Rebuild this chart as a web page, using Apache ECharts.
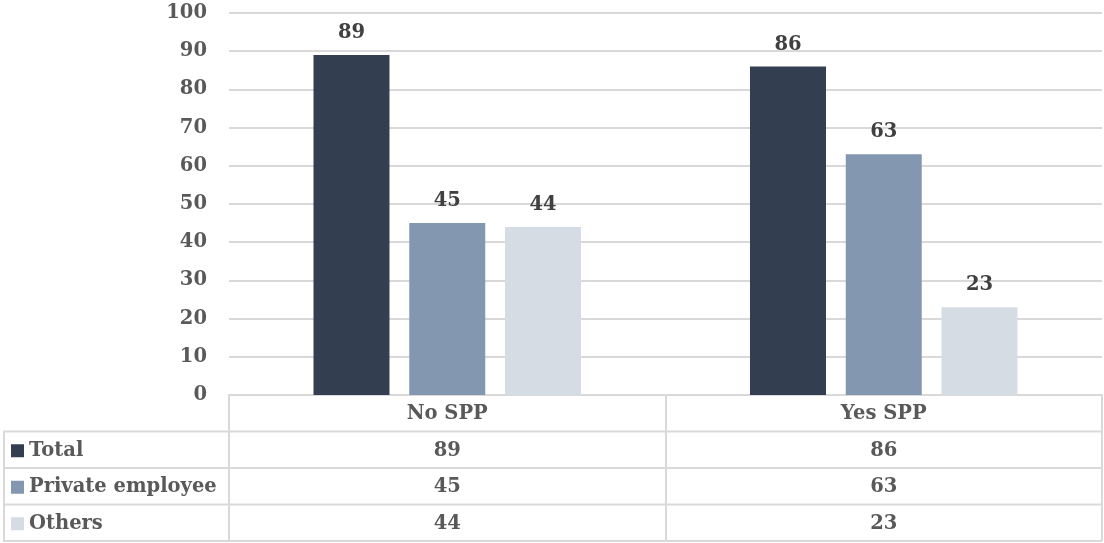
<!DOCTYPE html>
<html><head><meta charset="utf-8">
<script src="https://cdn.jsdelivr.net/npm/echarts@6/dist/echarts.min.js"></script>
<style>html,body{margin:0;padding:0;background:#fff}#c{width:1104px;height:543px}</style>
</head><body><div id="c"></div>
<script>
const categories = ['No SPP', 'Yes SPP'];
const seriesNames = ['Total', 'Private employee', 'Others'];
const totalValues = [89, 86];
const privateValues = [45, 63];
const othersValues = [44, 23];
const yTicks = [0, 10, 20, 30, 40, 50, 60, 70, 80, 90, 100];

const colors = ['#333F50', '#8497B0', '#D6DCE4'];
const FONT = 'DejaVu Serif';
const FS = 19.5;
const W = 1104, H = 543;
const gridLeft = 229, gridRight = 2, gridTop = 13, axisY = 395;
const rowH = 36.5;
const tableLeft = 3;
const lineColor = '#d9d9d9';
const LW = 2;

const rowValues = [totalValues, privateValues, othersValues];

const chart = echarts.init(document.getElementById('c'), null, {renderer: 'canvas'});

const labelStyle = {fontFamily: FONT, fontWeight: 'bold', fontSize: FS, color: '#595959'};

const xAxes = [{
  type: 'category', data: categories, position: 'bottom',
  axisLine: {show: true, lineStyle: {color: lineColor, width: LW}},
  axisTick: {show: true, interval: 0, length: rowH * 4, lineStyle: {color: lineColor, width: LW}},
  axisLabel: Object.assign({margin: rowH / 2 + 1, verticalAlign: 'middle'}, labelStyle)
}];
rowValues.forEach((vals, r) => {
  xAxes.push({
    type: 'category', data: categories, position: 'bottom', offset: rowH * (r + 1),
    axisLine: {show: false}, axisTick: {show: false},
    axisLabel: Object.assign({margin: rowH / 2 + 1, verticalAlign: 'middle',
      formatter: (v, i) => String(vals[i])}, labelStyle)
  });
});

const graphics = [];
for (let r = 1; r <= 4; r++) {
  const y = axisY + rowH * r;
  graphics.push({type: 'line', shape: {x1: tableLeft, y1: y, x2: W - gridRight, y2: y},
    style: {stroke: lineColor, lineWidth: LW}, silent: true});
}
graphics.push({type: 'line', shape: {x1: tableLeft + 1, y1: axisY + rowH, x2: tableLeft + 1, y2: axisY + rowH * 4},
  style: {stroke: lineColor, lineWidth: LW}, silent: true});

chart.setOption({
  animation: false,
  color: colors,
  grid: {left: gridLeft, right: gridRight, top: gridTop, bottom: H - axisY, containLabel: false},
  legend: {
    orient: 'vertical', left: 11, top: axisY + rowH + rowH / 2 - 10, height: 140,
    itemWidth: 13, itemHeight: 13, itemGap: rowH - 22, icon: 'rect', padding: 0,
    data: seriesNames,
    textStyle: Object.assign({lineHeight: 22, padding: [0, 0, 0, 0]}, labelStyle)
  },
  xAxis: xAxes,
  yAxis: {
    type: 'value', min: yTicks[0], max: yTicks[yTicks.length - 1], interval: 10,
    axisLine: {show: false}, axisTick: {show: false},
    axisLabel: Object.assign({margin: 22}, labelStyle),
    splitLine: {lineStyle: {color: lineColor, width: LW}}
  },
  series: seriesNames.map((name, i) => ({
    name, type: 'bar', data: rowValues[i], xAxisIndex: 0,
    barWidth: 76, barGap: '26%',
    itemStyle: {color: colors[i]},
    label: {show: true, position: 'top', distance: 12, fontFamily: FONT, fontWeight: 'bold', fontSize: FS, color: '#404040'}
  })),
  graphic: graphics
});
</script></body></html>
